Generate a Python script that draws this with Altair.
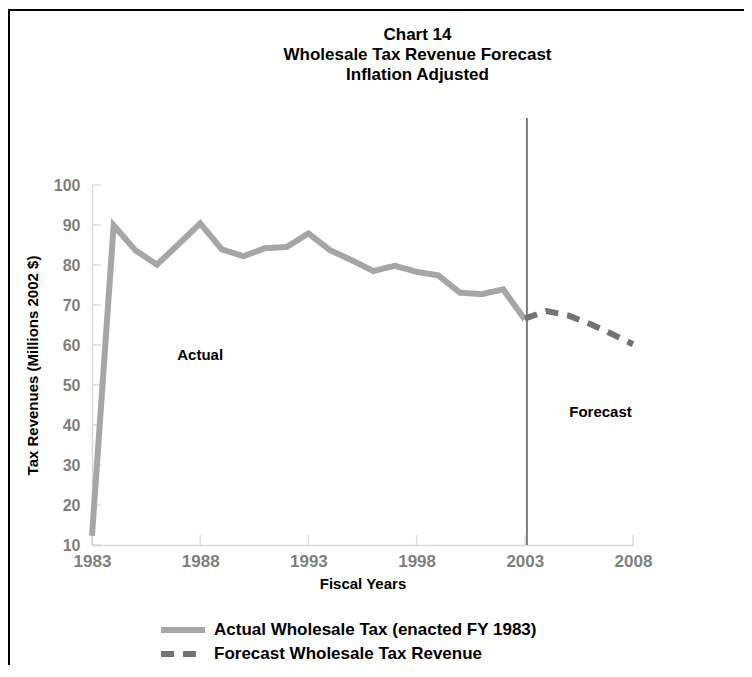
import altair as alt
import pandas as pd

# ---- data ----
years_actual = list(range(1983, 2004))
actual_values = [12.3, 89.9, 83.7, 80.1, 85.2, 90.4, 83.9, 82.2, 84.2, 84.5,
                 87.9, 83.7, 81.2, 78.5, 79.8, 78.3, 77.4, 73.1, 72.7, 73.9, 66.4]
years_forecast = list(range(2003, 2009))
forecast_values = [66.6, 68.5, 67.4, 65.3, 62.8, 60.2]
series_names = ["Actual Wholesale Tax (enacted FY 1983)", "Forecast Wholesale Tax Revenue"]
x_ticks = [1983, 1988, 1993, 1998, 2003, 2008]
y_ticks = [10, 20, 30, 40, 50, 60, 70, 80, 90, 100]
divider_year = [2003.1]
notes_text = ["Actual", "Forecast"]
notes_year = [1988.0, 2006.5]
notes_value = [57.5, 43.3]
title_lines = ["Chart 14", "Wholesale Tax Revenue Forecast", "Inflation Adjusted"]

W, H = 541, 360
FONT = "Liberation Sans"

df = pd.concat([
    pd.DataFrame({"year": years_actual, "value": actual_values, "series": series_names[0]}),
    pd.DataFrame({"year": years_forecast, "value": forecast_values, "series": series_names[1]}),
], ignore_index=True)

x_scale = alt.Scale(domain=[1983, 2008], nice=False, zero=False)
y_scale = alt.Scale(domain=[10, 100], nice=False, zero=False)

x_axis = alt.Axis(
    values=x_ticks, format="d", title="Fiscal Years", grid=False, ticks=False,
    labelFont=FONT, labelFontSize=17, labelFontWeight="bold", labelColor="#7f7f7f",
    labelPadding=8, labelFlush=False, labelOverlap=False,
    domainColor="#d9d9d9", domainWidth=1.5,
    titleFont=FONT, titleFontSize=15, titleFontWeight="bold", titleColor="black",
    titleX=W / 2, titleY=38, titleBaseline="middle", titleAlign="center")
y_axis = alt.Axis(
    values=y_ticks, title="Tax Revenues (Millions 2002 $)", grid=False, ticks=False,
    labelFont=FONT, labelFontSize=16, labelFontWeight="bold", labelColor="#7f7f7f",
    labelPadding=12, labelFlush=False, labelOverlap=False,
    domainColor="#d9d9d9", domainWidth=1.5,
    titleFont=FONT, titleFontSize=15, titleFontWeight="bold", titleColor="black",
    titleX=-60, titleY=H / 2, titleAngle=270, titleBaseline="middle", titleAlign="center")

legend_props = dict(
    orient="none", legendX=81, legendY=435, title=None, padding=0,
    symbolType="M-3.14,0H3.14", symbolSize=196, symbolStrokeWidth=6,
    labelFont=FONT, labelFontSize=17, labelFontWeight="bold", labelColor="black",
    labelOffset=21, labelLimit=700, rowPadding=0,
)

lines = alt.Chart(df).mark_line(strokeWidth=6, strokeCap="butt").encode(
    x=alt.X("year:Q", scale=x_scale, axis=x_axis),
    y=alt.Y("value:Q", scale=y_scale, axis=y_axis),
    color=alt.Color("series:N", scale=alt.Scale(domain=series_names, range=["#a6a6a6", "#737373"]),
                    legend=alt.Legend(**legend_props)),
    strokeDash=alt.StrokeDash("series:N", scale=alt.Scale(domain=series_names, range=[[1, 0], [13, 9]]),
                              legend=alt.Legend(**legend_props)),
)

yticks = alt.Chart(pd.DataFrame({"value": y_ticks})).mark_tick(
    orient="horizontal", size=9, thickness=1.5, color="#d0d0d0").encode(
    y=alt.Y("value:Q", scale=y_scale, axis=y_axis), x=alt.value(4.5))

xticks = alt.Chart(pd.DataFrame({"year": x_ticks})).mark_tick(
    orient="vertical", size=10, thickness=1.5, color="#d0d0d0").encode(
    x=alt.X("year:Q", scale=x_scale, axis=x_axis), y=alt.value(H - 5))

divider = alt.Chart(pd.DataFrame({"year": divider_year})).mark_rule(color="black", strokeWidth=1).encode(
    x=alt.X("year:Q", scale=x_scale, axis=x_axis), y=alt.value(-67), y2=alt.value(H))

notes = alt.Chart(pd.DataFrame({"year": notes_year, "value": notes_value, "label": notes_text})).mark_text(
    font=FONT, fontSize=15, fontWeight="bold", color="black").encode(
    x=alt.X("year:Q", scale=x_scale, axis=x_axis),
    y=alt.Y("value:Q", scale=y_scale, axis=y_axis), text="label:N")

frame_df = pd.DataFrame({"k": [0]})
border_top = alt.Chart(frame_df).mark_rule(color="black", strokeWidth=2).encode(
    x=alt.value(-84), x2=alt.value(W + 111), y=alt.value(-175))
border_left = alt.Chart(frame_df).mark_rule(color="black", strokeWidth=2).encode(
    x=alt.value(-83), y=alt.value(-176), y2=alt.value(H + 130))

chart = alt.layer(border_top, border_left, xticks, yticks, divider, lines, notes).properties(
    width=W, height=H,
    autosize=alt.AutoSizeParams(type="none"),
    padding={"left": 84, "top": 177, "right": 111, "bottom": 120},
    title=alt.TitleParams(text=title_lines, font=FONT, fontSize=17, fontWeight="bold", color="black",
                          lineHeight=20, anchor="middle", dx=55, offset=-76),
).configure_view(stroke=None).configure_axis(labelOverlap=False)

chart.save("out.html", embed_options={"renderer": "svg", "actions": False})
